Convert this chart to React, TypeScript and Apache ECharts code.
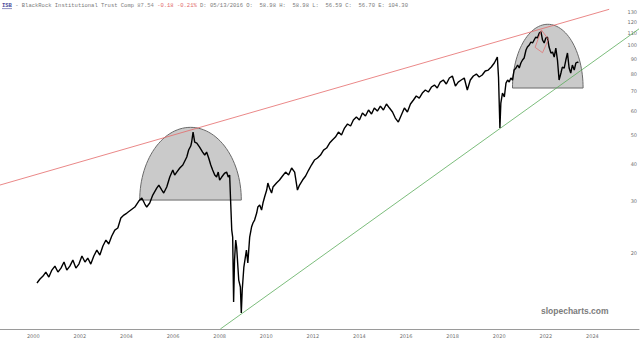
import React, { useEffect, useRef } from "react";
import * as echarts from "echarts";

// ---- header texts ----
const tickerSymbol = "ISB";
const companyName = "- BlackRock Institutional Trust Comp";
const headerLast = "87.54";
const headerChange = "-0.18 -0.21%";
const headerRest = "D: 05/13/2016 O:  58.98 H:  58.98 L:  56.59 C:  56.70 E: 104.30";
const watermark = "slopecharts.com";

// ---- axes ----
const xTickLabels = [2000, 2002, 2004, 2006, 2008, 2010, 2012, 2014, 2016, 2018, 2020, 2022, 2024];
const yTickLabels = [20, 30, 40, 50, 60, 70, 80, 90, 100, 110, 120, 130];
const xRange = [1998.573, 2026.0];
const yRange = [11.1, 142.2];

// ---- price series (decimal year, price) ----
const priceDates = [
  2000.16, 2000.29, 2000.42, 2000.54, 2000.67, 2000.80, 2000.93, 2001.06, 2001.19, 2001.32,
  2001.44, 2001.57, 2001.70, 2001.83, 2001.96, 2002.09, 2002.22, 2002.34, 2002.47, 2002.60,
  2002.73, 2002.86, 2002.99, 2003.12, 2003.24, 2003.37, 2003.50, 2003.63, 2003.76,
  2003.89, 2004.02, 2004.19, 2004.36, 2004.53, 2004.66, 2004.79, 2004.87, 2005.00, 2005.13,
  2005.30, 2005.39, 2005.52, 2005.60, 2005.73, 2005.86, 2005.99, 2006.07, 2006.16, 2006.29,
  2006.42, 2006.59, 2006.67, 2006.76, 2006.80, 2006.86, 2006.93, 2007.02, 2007.14, 2007.27,
  2007.36, 2007.44, 2007.53, 2007.62, 2007.70, 2007.79, 2007.87, 2007.94, 2008.00, 2008.09,
  2008.22, 2008.30, 2008.37, 2008.43, 2008.47, 2008.52, 2008.56, 2008.60, 2008.64, 2008.69,
  2008.73, 2008.82, 2008.89, 2008.93, 2008.97, 2009.04, 2009.15, 2009.21, 2009.29, 2009.37,
  2009.43, 2009.50, 2009.59, 2009.64, 2009.72, 2009.80, 2009.86, 2009.93, 2010.02, 2010.07,
  2010.14, 2010.23, 2010.29, 2010.44, 2010.57,
  2010.70, 2010.83, 2010.96, 2011.09, 2011.22, 2011.34, 2011.43, 2011.56, 2011.69, 2011.82,
  2011.94, 2012.07, 2012.20, 2012.33, 2012.46, 2012.59, 2012.72, 2012.84, 2012.97, 2013.10,
  2013.23, 2013.36, 2013.49, 2013.62, 2013.74, 2013.87, 2014.00, 2014.13, 2014.26, 2014.39,
  2014.52, 2014.64, 2014.77, 2014.90, 2015.03, 2015.16, 2015.29, 2015.42, 2015.54, 2015.67,
  2015.80, 2015.93, 2016.06, 2016.19, 2016.32, 2016.44, 2016.57, 2016.70, 2016.83, 2016.96,
  2017.09, 2017.22, 2017.34, 2017.47, 2017.60, 2017.73, 2017.86, 2017.99, 2018.12, 2018.24,
  2018.37, 2018.50, 2018.63, 2018.76, 2018.89, 2019.02, 2019.14, 2019.27, 2019.40, 2019.53,
  2019.66, 2019.79, 2019.92,
  2019.97, 2020.03, 2020.07, 2020.14, 2020.22, 2020.29, 2020.36, 2020.43, 2020.50, 2020.57,
  2020.64, 2020.72, 2020.79, 2020.86, 2020.93, 2021.00, 2021.07, 2021.15, 2021.21, 2021.29,
  2021.36, 2021.43, 2021.50, 2021.57, 2021.64, 2021.72, 2021.79, 2021.86, 2021.93, 2022.00,
  2022.07, 2022.14, 2022.22, 2022.29, 2022.36, 2022.43, 2022.50, 2022.57, 2022.65, 2022.71,
  2022.79, 2022.86, 2022.93, 2023.00, 2023.07, 2023.14, 2023.22, 2023.29, 2023.36, 2023.40,
];
const priceValues = [
  15.85, 16.35, 16.73, 17.26, 16.6, 17.53, 18.08, 17.26, 17.8, 18.65,
  17.53, 18.08, 18.94, 17.8, 18.36, 19.54, 18.65, 19.24, 18.36, 19.54,
  20.47, 19.69, 21.12, 22.12, 21.45, 22.82, 23.9, 24.28, 26.23,
  26.85, 27.27, 27.91, 28.57, 29.93, 30.63, 29.24, 28.57, 29.47, 31.35,
  33.1, 33.88, 32.59, 31.84, 33.36, 36.05, 38.06, 36.61, 37.47, 38.66,
  39.57, 42.1, 44.44, 45.84, 47.29, 51.1, 47.29, 46.92, 45.49, 43.76,
  42.76, 43.76, 41.77, 39.57, 38.06, 36.61, 36.05, 37.47, 35.22, 36.05,
  37.19, 37.47, 36.05, 36.61, 30.16, 23.9, 22.64, 13.68, 18.94, 22.12,
  20.95, 16.22, 15.37, 12.56, 15.01, 17.94, 20.47, 18.51, 22.64, 24.47,
  25.24, 25.83, 27.27, 28.57, 29.02, 27.91, 29.47, 30.87, 32.59, 34.41,
  33.1, 31.84, 33.36, 34.41, 35.22,
  36.33, 37.47, 36.61, 38.66, 37.47, 32.59, 33.88, 35.22, 36.33, 38.06,
  39.57, 41.13, 41.77, 42.76, 44.44, 45.14, 46.92, 48.02, 49.15, 51.1,
  49.92, 52.7, 54.37, 53.53, 56.08, 57.4, 56.08, 59.2, 57.84, 60.6,
  58.75, 61.54, 60.13, 62.5, 60.6, 63.48, 61.54, 59.67, 56.95, 55.21,
  58.3, 61.54, 59.67, 63.48, 65.5, 67.55, 66.5, 69.13, 70.76, 69.67,
  72.43, 73.55, 71.87, 75.28, 76.47, 74.13, 77.66, 78.88, 72.99, 75.28,
  76.47, 77.66, 70.76, 76.47, 78.88, 80.1, 78.27, 79.49, 81.99, 82.62,
  84.57, 87.25, 91.4,
  78.27, 52.7, 63.98, 69.13, 67.02, 74.7, 76.47, 75.28, 77.66, 76.47,
  82.62, 83.93, 85.9, 83.93, 87.25, 89.29, 90.69, 96.49, 98.76, 100.3,
  102.67, 101.87, 104.27, 106.72, 105.9, 110.07, 111.2, 104.27, 101.87, 105.9,
  106.72, 98.76, 94.27, 95.0, 91.4, 98.0, 89.29, 76.47, 80.73, 84.57,
  83.93, 89.29, 94.27, 83.93, 80.73, 85.9, 82.62, 87.25, 87.9, 87.54,
];

// ---- annotations ----
const resistanceDates = [1998.57, 2024.72];
const resistanceValues = [33.88, 132.3];
const supportDates = [2008.03, 2026.0];
const supportValues = [11.1, 113.7];

const domeStarts = [2004.57, 2020.57];
const domeEnds = [2008.93, 2023.6];
const domeBases = [30.16, 71.87];
const domeTops = [52.99, 117.8];

const peakBoxDates = [2021.54, 2021.81, 2022.11, 2021.86, 2021.54];
const peakBoxValues = [98.5, 112.7, 104.8, 94.5, 98.5];

const L10 = (v: number) => Math.log10(v);

export default function App() {
  const ref = useRef<HTMLDivElement>(null);

  useEffect(() => {
    if (!ref.current) return;
    const chart = echarts.init(ref.current, undefined, { renderer: "svg" });

    const option: any = {
      animation: false,
      backgroundColor: "#ffffff",
      grid: { left: 0, right: 0, top: 0, bottom: 14, containLabel: false },
      xAxis: {
        type: "value",
        min: xRange[0],
        max: xRange[1],
        axisLine: { show: true, lineStyle: { color: "#9a9a9a", width: 1 } },
        axisTick: { show: false },
        splitLine: { show: false },
        axisLabel: {
          customValues: xTickLabels,
          formatter: (v: number) => String(Math.round(v)),
          fontSize: 5,
          color: "#6f6f6f",
          margin: 4,
          fontFamily: "DejaVu Sans",
        },
      },
      yAxis: {
        type: "value",
        position: "right",
        min: L10(yRange[0]),
        max: L10(yRange[1]),
        axisLine: { show: false },
        axisTick: { show: false },
        splitLine: { show: false },
        axisLabel: {
          inside: true,
          customValues: yTickLabels.map(L10),
          formatter: (v: number) => String(Math.round(Math.pow(10, v))),
          fontSize: 5,
          color: "#6f6f6f",
          margin: 2,
          fontFamily: "DejaVu Sans",
        },
      },
      series: [
        {
          type: "custom",
          z: 1,
          clip: false,
          silent: true,
          encode: { x: [0, 1], y: [2, 3] },
          data: domeStarts.map((s, i) => [s, domeEnds[i], L10(domeBases[i]), L10(domeTops[i])]),
          renderItem: (_p: any, api: any) => {
            const a = api.coord([api.value(0), api.value(2)]);
            const b = api.coord([api.value(1), api.value(3)]);
            const cx = (a[0] + b[0]) / 2;
            const rx = (b[0] - a[0]) / 2;
            const ry = a[1] - b[1];
            const pts: number[][] = [];
            const n = 60;
            for (let k = 0; k <= n; k++) {
              const t = (Math.PI * k) / n;
              pts.push([cx - rx * Math.cos(t), a[1] - ry * Math.sin(t)]);
            }
            return {
              type: "polygon",
              shape: { points: pts },
              style: { fill: "#cacaca", stroke: "#6a6a6a", lineWidth: 1 },
            };
          },
        },
        {
          type: "line",
          z: 2,
          clip: false,
          silent: true,
          symbol: "none",
          lineStyle: { color: "#e46a6a", width: 0.8 },
          data: resistanceDates.map((d, i) => [d, L10(resistanceValues[i])]),
        },
        {
          type: "line",
          z: 2,
          clip: false,
          silent: true,
          symbol: "none",
          lineStyle: { color: "#5aac5a", width: 0.8 },
          data: supportDates.map((d, i) => [d, L10(supportValues[i])]),
        },
        {
          type: "line",
          z: 3,
          silent: true,
          symbol: "none",
          lineStyle: { color: "#000000", width: 1.4 },
          data: priceDates.map((d, i) => [d, L10(priceValues[i])]),
        },
        {
          type: "line",
          z: 4,
          clip: false,
          silent: true,
          symbol: "none",
          lineStyle: { color: "#e46a6a", width: 0.7 },
          data: peakBoxDates.map((d, i) => [d, L10(peakBoxValues[i])]),
        },
      ],
      graphic: [
        {
          type: "text",
          left: 2,
          top: 2,
          style: {
            text: `{t|${tickerSymbol}} {n|${companyName}} {p|${headerLast}} {r|${headerChange}} {n|${headerRest}}`,
            fontFamily: "Liberation Mono",
            fontSize: 5.5,
            fill: "#8a8a8a",
            rich: {
              t: { fontFamily: "Liberation Mono", fontSize: 5.5, fill: "#4a4a9a", fontWeight: "bold" },
              n: { fontFamily: "Liberation Mono", fontSize: 5.5, fill: "#7a7a7a" },
              p: { fontFamily: "Liberation Mono", fontSize: 5.5, fill: "#8a8a8a" },
              r: { fontFamily: "Liberation Mono", fontSize: 5.5, fill: "#e26a6a" },
            },
          },
        },
        {
          type: "line",
          shape: { x1: 2, y1: 8.6, x2: 12, y2: 8.6 },
          style: { stroke: "#4a4a9a", lineWidth: 0.6 },
        },
        {
          type: "text",
          left: 541,
          top: 306,
          style: {
            text: watermark,
            fontFamily: "Liberation Sans",
            fontSize: 8.5,
            fontWeight: "bold",
            fill: "#7c7c7c",
          },
        },
      ],
    };

    chart.setOption(option);
    return () => chart.dispose();
  }, []);

  return (
    <div
      ref={ref}
      style={{ position: "fixed", left: 0, top: 0, width: 640, height: 343, background: "#fff" }}
    />
  );
}
